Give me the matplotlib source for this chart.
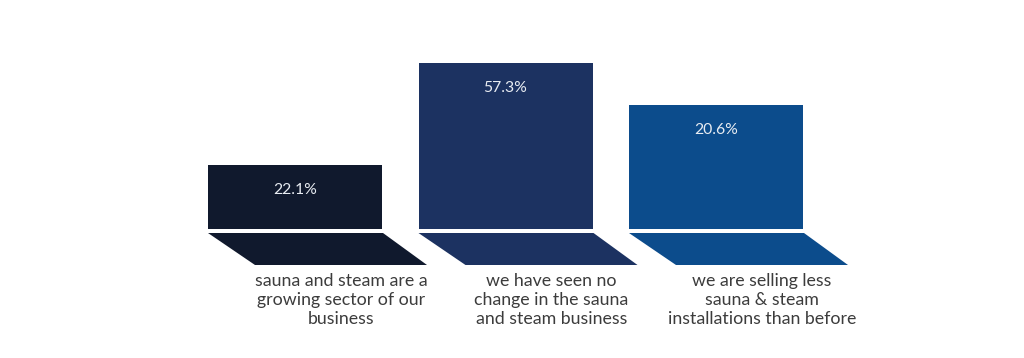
import matplotlib.pyplot as plt
from matplotlib.patches import Polygon

categories = [
    "sauna and steam are a\ngrowing sector of our\nbusiness",
    "we have seen no\nchange in the sauna\nand steam business",
    "we are selling less\nsauna & steam\ninstallations than before",
]
shares = [22.1, 57.3, 20.6]
# drawn heights as they appear in the picture (not proportional to shares)
bar_heights = [64, 166, 124]
colors = ["#10192d", "#1c3261", "#0c4c8c"]

plt.rcParams["font.family"] = ["Lato", "DejaVu Sans"]

fig = plt.figure(figsize=(10.24, 3.58), dpi=100)
ax = fig.add_axes([0, 0, 1, 1])
ax.set_xlim(0, 1024)
ax.set_ylim(0, 358)
ax.axis("off")

baseline = 129
width = 174
centers = [295 + 210.5 * i for i in range(len(shares))]

ax.bar(centers, bar_heights, width=width, bottom=baseline, color=colors, linewidth=0)

for cx, h, s, c, label in zip(centers, bar_heights, shares, colors, categories):
    left, right = cx - width / 2, cx + width / 2
    base = Polygon([(left, baseline - 4), (right + 1, baseline - 4),
                    (right + 45, baseline - 36), (left + 47, baseline - 36)],
                   closed=True, facecolor=c, edgecolor="none")
    ax.add_patch(base)
    ax.text(cx, baseline + h - 25, f"{s}%", ha="center", va="center",
            color="#e8ecf2", fontsize=11.3)
    ax.text(cx + 46, baseline - 44, label, ha="center", va="top",
            color="#3c3c3c", fontsize=12.8, linespacing=1.24)

fig.savefig("out.png", dpi=100)
